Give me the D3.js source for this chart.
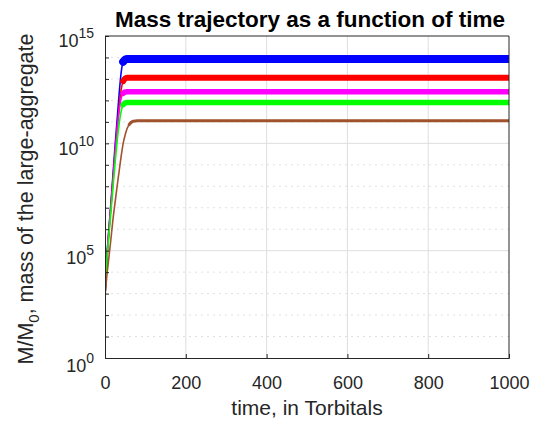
<!DOCTYPE html>
<html>
<head>
<meta charset="utf-8">
<script src="https://cdn.jsdelivr.net/npm/d3@7"></script>
<style>
  html, body { margin: 0; padding: 0; background: #fff; }
  svg { display: block; font-family: "Liberation Sans", Arial, sans-serif; }
</style>
</head>
<body>
<svg id="chart" width="533" height="427"></svg>
<script>
// Time samples (Torbitals) and log10(M/M0) for each run
const times = [0, 5, 10, 15, 20, 25, 30, 35, 40, 45, 50, 55, 60, 65, 70, 80, 90, 100, 1000];

const blueLog    = [2.9, 4.8, 6.1, 7.3, 8.6, 9.9, 11.1, 12.3, 13.3, 13.8, 13.9, 13.93, 13.93, 13.93, 13.93, 13.93, 13.93, 13.93, 13.93];
const redLog     = [2.9, 4.7, 6.0, 7.2, 8.4, 9.6, 10.7, 11.7, 12.5, 12.9, 13.02, 13.05, 13.05, 13.05, 13.05, 13.05, 13.05, 13.05, 13.05];
const magentaLog = [2.9, 4.7, 5.95, 7.1, 8.3, 9.5, 10.6, 11.5, 12.1, 12.33, 12.39, 12.4, 12.4, 12.4, 12.4, 12.4, 12.4, 12.4, 12.4];
const greenLog   = [2.9, 4.6, 5.8, 6.9, 8.0, 9.1, 10.1, 10.9, 11.5, 11.8, 11.88, 11.9, 11.9, 11.9, 11.9, 11.9, 11.9, 11.9, 11.9];
const brownLog   = [2.9, 3.9, 4.75, 5.6, 6.5, 7.25, 8.0, 8.7, 9.4, 10.0, 10.4, 10.7, 10.88, 10.98, 11.03, 11.05, 11.05, 11.05, 11.05];

const seriesNames  = ["blue", "red", "magenta", "green", "brown"];
const seriesValues = [blueLog, redLog, magentaLog, greenLog, brownLog];
// time from which each run sits on its saturated (fluctuating) plateau
const plateauFrom  = [45, 45, 45, 45, 60];

const xTicks = [0, 200, 400, 600, 800, 1000];
const yMajorExponents = [0, 5, 10, 15];
const yMinorExponents = d3.range(0, 16);

const colors = { blue: "#0000ff", red: "#ff0000", magenta: "#ff00ff", green: "#00ff00", brown: "#a0522d" };
const bandWidths = { blue: 8, red: 6, magenta: 5.5, green: 5.5, brown: 3 };

const svg = d3.select("#chart");
const m = { left: 105, right: 509, top: 36, bottom: 358 };

const x = d3.scaleLinear().domain([0, 1000]).range([m.left, m.right]);
const y = d3.scaleLog().domain([1, 1e15]).range([m.bottom, m.top]);

const axisColor = "#262626";
const gridColor = "#dedede";

svg.append("defs").append("clipPath").attr("id", "plotArea")
  .append("rect")
  .attr("x", m.left).attr("y", m.top)
  .attr("width", m.right - m.left).attr("height", m.bottom - m.top);

// minor grid: every decade, dotted
svg.append("g").selectAll("line")
  .data(yMinorExponents.filter(e => e % 5 !== 0))
  .join("line")
  .attr("x1", m.left).attr("x2", m.right)
  .attr("y1", e => y(Math.pow(10, e))).attr("y2", e => y(Math.pow(10, e)))
  .attr("stroke", "#e0e0e0").attr("stroke-width", 1)
  .attr("stroke-dasharray", "2,4");

// major grid
svg.append("g").selectAll("line")
  .data(yMajorExponents.slice(1, -1))
  .join("line")
  .attr("x1", m.left).attr("x2", m.right)
  .attr("y1", e => y(Math.pow(10, e))).attr("y2", e => y(Math.pow(10, e)))
  .attr("stroke", gridColor).attr("stroke-width", 1);

svg.append("g").selectAll("line")
  .data(xTicks.slice(1, -1))
  .join("line")
  .attr("x1", d => x(d)).attr("x2", d => x(d))
  .attr("y1", m.top).attr("y2", m.bottom)
  .attr("stroke", gridColor).attr("stroke-width", 1);

// trajectories
const line = d3.line()
  .x(d => x(d[0]))
  .y(d => y(Math.pow(10, d[1])))
  .curve(d3.curveMonotoneX);

const plot = svg.append("g").attr("clip-path", "url(#plotArea)");
seriesNames.forEach((name, i) => {
  const pts = times.map((t, k) => [t, seriesValues[i][k]]);
  // thin growth curve
  plot.append("path")
    .datum(pts)
    .attr("d", line)
    .attr("fill", "none")
    .attr("stroke", colors[name])
    .attr("stroke-width", 1.6)
    .attr("stroke-linejoin", "round");
  // thick band along the saturated plateau
  plot.append("path")
    .datum(pts.filter(p => p[0] >= plateauFrom[i]))
    .attr("d", line)
    .attr("fill", "none")
    .attr("stroke", colors[name])
    .attr("stroke-width", bandWidths[name])
    .attr("stroke-linejoin", "round")
    .attr("stroke-linecap", "round");
});

// axes via d3-axis, ticks pointing inward
const xAxis = d3.axisBottom(x).tickValues(xTicks).tickSize(-4).tickFormat(d3.format("d"));
const gx = svg.append("g").attr("transform", `translate(0,${m.bottom})`).call(xAxis);
gx.select(".domain").attr("stroke", axisColor);
gx.selectAll(".tick line").attr("stroke", axisColor);
gx.selectAll(".tick text")
  .attr("fill", axisColor)
  .attr("y", 31)
  .attr("dy", "0")
  .style("font-size", "18px")
  .style("font-family", "'Liberation Sans', Arial, sans-serif");

const yAxis = d3.axisLeft(y)
  .tickValues(yMinorExponents.map(e => Math.pow(10, e)))
  .tickSize(-4).tickFormat("");
const gy = svg.append("g").attr("transform", `translate(${m.left},0)`).call(yAxis);
gy.select(".domain").attr("stroke", axisColor);
gy.selectAll(".tick line").attr("stroke", axisColor);

// top and right box edges
svg.append("line").attr("x1", m.left).attr("x2", m.right).attr("y1", m.top).attr("y2", m.top)
  .attr("stroke", axisColor).attr("stroke-width", 1);
svg.append("line").attr("x1", m.right).attr("x2", m.right).attr("y1", m.top).attr("y2", m.bottom)
  .attr("stroke", axisColor).attr("stroke-width", 1);

// y tick labels as 10 with superscript exponent
yMajorExponents.forEach(e => {
  const t = svg.append("text")
    .attr("x", m.left - 11)
    .attr("y", y(Math.pow(10, e)) + 11 + (15 - e) * 0.2)
    .attr("text-anchor", "end")
    .attr("fill", axisColor)
    .style("font-size", "18px");
  t.append("tspan").text("10");
  t.append("tspan").attr("dy", -9).style("font-size", "14px").text(String(e));
});

// title
svg.append("text")
  .attr("x", 310)
  .attr("y", 27)
  .attr("text-anchor", "middle")
  .attr("fill", "#000")
  .style("font-size", "22.5px")
  .style("font-weight", "bold")
  .text("Mass trajectory as a function of time");

// x label
svg.append("text")
  .attr("x", (m.left + m.right) / 2)
  .attr("y", 415)
  .attr("text-anchor", "middle")
  .attr("fill", axisColor)
  .style("font-size", "21px")
  .text("time, in Torbitals");

// y label
const yl = svg.append("text")
  .attr("transform", `translate(33,199) rotate(-90)`)
  .attr("text-anchor", "middle")
  .attr("fill", axisColor)
  .style("font-size", "21.5px");
yl.append("tspan").text("M/M");
yl.append("tspan").attr("dy", 6).style("font-size", "15px").text("0");
yl.append("tspan").attr("dy", -6).text(", mass of the large-aggregate");
</script>
</body>
</html>
